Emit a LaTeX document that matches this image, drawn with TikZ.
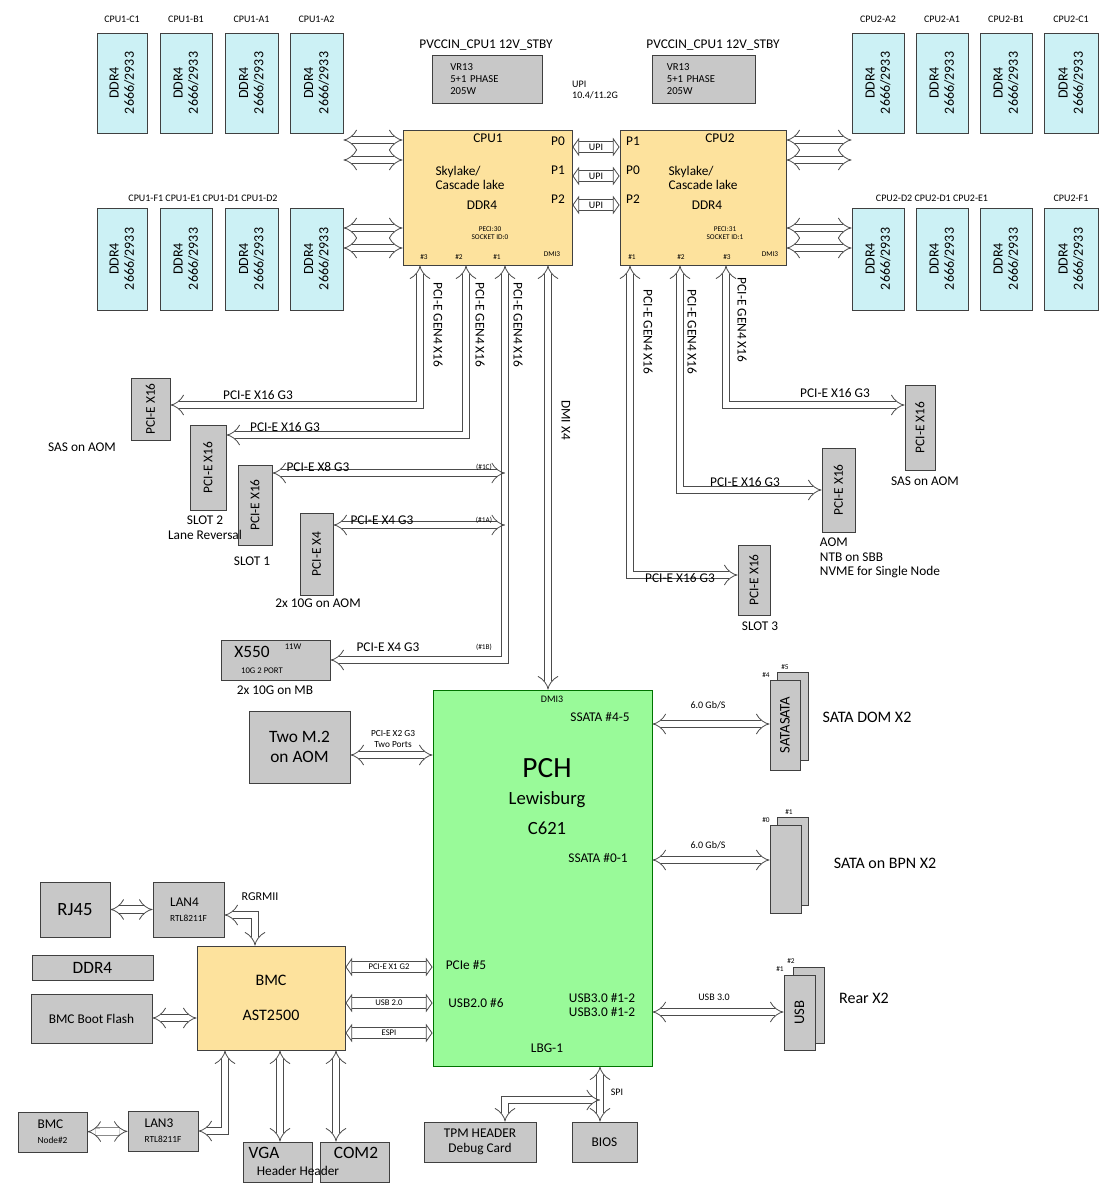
\documentclass[tikz,border=0pt]{standalone}
\usepackage{fontspec}
\setmainfont{Carlito}
\usetikzlibrary{arrows.meta}
\definecolor{dimmc}{RGB}{204,241,245}
\definecolor{cpuc}{RGB}{253,226,157}
\definecolor{pchc}{RGB}{153,250,153}
\definecolor{gryc}{RGB}{200,200,200}
\newcommand{\mybx}[7][]{\node[#1, minimum width={(#5-#3)*0.75pt}, minimum height={(#6-#4)*0.75pt}] (#2) at ({(#3+#5)/2},{(#4+#6)/2}) {#7};}
\newcommand{\myrbx}[7][]{\node[#1, rotate=90, minimum height={(#5-#3)*0.75pt}, minimum width={(#6-#4)*0.75pt}] (#2) at ({(#3+#5)/2},{(#4+#6)/2}) {#7};}
\begin{document}
\begin{tikzpicture}[x=0.75pt,y=-0.75pt,
  base/.style={draw=black!75, line width=0.7pt, inner sep=1pt, align=center},
  dimm/.style={base, fill=dimmc, font=\fontsize{10.5}{11.5}\selectfont},
  gbox/.style={base, fill=gryc, font=\fontsize{10}{11}\selectfont},
  cpu/.style={base, fill=cpuc},
  bus/.style={draw=black!70, double=white, double distance=5pt, line width=0.6pt, {Implies}-{Implies}},
  wbus/.style={draw=black!70, double=white, double distance=8pt, line width=0.6pt, {Triangle[open, width=14pt, length=5pt]}-{Triangle[open, width=14pt, length=5pt]}},
  lbl/.style={font=\fontsize{10}{11}\selectfont, inner sep=1pt},
  sm/.style={font=\fontsize{7.5}{8}\selectfont, inner sep=1pt},
  tiny/.style={font=\fontsize{5.5}{6}\selectfont, inner sep=0.5pt, align=center}]
\useasboundingbox[fill=white] (0,0) rectangle (1104,1187);
% DIMMs
\foreach \n/\xa/\xb/\t in {c1/97/147/CPU1-C1, b1/160/212/CPU1-B1, a1/225/278/CPU1-A1, a2/290/343/CPU1-A2}{
  \myrbx[dimm]{l\n}{\xa}{33}{\xb}{133}{DDR4\\2666/2933}
  \node[sm] (lt\n) at ({(\xa+\xb)/2},19) {\t};}
\foreach \n/\xa/\xb in {f1/97/147, e1/160/212, d1/225/278, d2/290/343}{
  \myrbx[dimm]{l\n}{\xa}{208}{\xb}{310}{DDR4\\2666/2933}}
\node[sm] (ltb) at (203,198) {CPU1-F1 CPU1-E1 CPU1-D1 CPU1-D2};
\foreach \n/\xa/\xb/\t in {a2/852/904/CPU2-A2, a1/916/968/CPU2-A1, b1/980/1032/CPU2-B1, c1/1044/1098/CPU2-C1}{
  \myrbx[dimm]{r\n}{\xa}{33}{\xb}{133}{DDR4\\2666/2933}
  \node[sm] (rt\n) at ({(\xa+\xb)/2},19) {\t};}
\foreach \n/\xa/\xb in {d2/852/904, d1/916/968, e1/980/1032, f1/1044/1098}{
  \myrbx[dimm]{r\n}{\xa}{208}{\xb}{310}{DDR4\\2666/2933}}
\node[sm] (rtb1) at (932,198) {CPU2-D2 CPU2-D1 CPU2-E1};
\node[sm] (rtb2) at (1071,198) {CPU2-F1};
% VR
\node[lbl] (pv1) at (486,45) {PVCCIN\_CPU1 12V\_STBY};
\node[lbl] (pv2) at (713,45) {PVCCIN\_CPU1 12V\_STBY};
\mybx[gbox, font=\fontsize{8}{9}\selectfont, align=left, text width=55pt]{vr1}{432}{55}{542}{103}{VR13\\5+1 PHASE\\205W}
\mybx[gbox, font=\fontsize{8}{9}\selectfont, align=left, text width=55pt]{vr2}{652}{55}{755}{103}{VR13\\5+1 PHASE\\205W}
\node[sm, align=left] (upi) at (595,90) {UPI\\10.4/11.2G};
% CPUs
\mybx[cpu]{cpu1}{403}{130}{572}{265}{}
\mybx[cpu]{cpu2}{620}{130}{786}{265}{}
\node[lbl] at (488,138) {CPU1};
\node[lbl, align=left] at (470,178) {Skylake/\\Cascade lake};
\node[lbl] at (482,205) {DDR4};
\node[tiny] at (490,233) {PECI:30\\SOCKET ID:0};
\node[lbl] at (558,141) {P0}; \node[lbl] at (558,170) {P1}; \node[lbl] at (558,199) {P2};
\node[tiny] at (424,257) {\#3}; \node[tiny] at (459,257) {\#2}; \node[tiny] at (497,257) {\#1}; \node[tiny] at (552,254) {DMI3};
\node[lbl] at (720,138) {CPU2};
\node[lbl, align=left] at (703,178) {Skylake/\\Cascade lake};
\node[lbl] at (707,205) {DDR4};
\node[tiny] at (725,233) {PECI:31\\SOCKET ID:1};
\node[lbl] at (633,141) {P1}; \node[lbl] at (633,170) {P0}; \node[lbl] at (633,199) {P2};
\node[tiny] at (632,257) {\#1}; \node[tiny] at (681,257) {\#2}; \node[tiny] at (727,257) {\#3}; \node[tiny] at (770,254) {DMI3};
% memory buses
\foreach \y in {140,160,228,248}{
  \draw[bus] (la2.south |- 0,\y) -- (cpu1.west |- 0,\y);
  \draw[bus] (cpu2.east |- 0,\y) -- (ra2.north |- 0,\y);}
% UPI
\foreach \y in {147,176,205}{
  \draw[wbus] (cpu1.east |- 0,\y) -- node[sm]{UPI} (cpu2.west |- 0,\y);}
% PCI-E boxes left
\myrbx[gbox]{s0}{131}{378}{170}{440}{PCI-E X16}
\myrbx[gbox]{s2}{190}{425}{226}{510}{PCI-E X16}
\myrbx[gbox]{s1}{238}{465}{272}{545}{PCI-E X16}
\myrbx[gbox]{s4}{300}{513}{333}{595}{PCI-E X4}
\mybx[gbox]{x550}{221}{640}{330}{680}{}
\node[font=\fontsize{13}{14}\selectfont] at (252,652) {X550};
\node[tiny, font=\fontsize{6.5}{7}\selectfont] at (293,647) {11W};
\node[tiny, font=\fontsize{6.5}{7}\selectfont] at (262,671) {10G 2 PORT};
\node[lbl] at (82,447) {SAS on AOM};
\node[lbl, align=center] at (205,528) {SLOT 2\\Lane Reversal};
\node[lbl] at (252,561) {SLOT 1};
\node[lbl] at (318,603) {2x 10G on AOM};
\node[lbl] at (275,690) {2x 10G on MB};
\draw[bus] (cpu1.south -| 420,0) |- (s0.south |- 0,405);
\draw[bus] (cpu1.south -| 466,0) |- (s2.south |- 0,435);
\draw[bus] (cpu1.south -| 505,0) |- (x550.east |- 0,660);
\draw[bus] (505,473) -- (s1.south |- 0,473);
\draw[bus] (505,525) -- (s4.south |- 0,525);
\node[lbl] at (258,395) {PCI-E X16 G3};
\node[lbl] at (285,427) {PCI-E X16 G3};
\node[lbl] at (318,467) {PCI-E X8 G3};
\node[lbl] at (382,520) {PCI-E X4 G3};
\node[lbl] at (388,647) {PCI-E X4 G3};
\node[tiny] at (484,467) {(\#1C)}; \node[tiny] at (484,520) {(\#1A)}; \node[tiny] at (484,647) {(\#1B)};
\node[lbl, rotate=-90] at (438,325) {PCI-E GEN4 X16};
\node[lbl, rotate=-90] at (480,325) {PCI-E GEN4 X16};
\node[lbl, rotate=-90] at (518,325) {PCI-E GEN4 X16};
% PCH
\mybx[base, fill=pchc, draw=green!45!black]{pch}{433}{690}{652}{1066}{}
\draw[bus] (cpu1.south -| 548,0) -- (pch.north -| 548,0);
\node[lbl, rotate=-90] at (566,420) {DMI X4};
\node[sm] at (552,699) {DMI3};
\node[lbl] at (600,717) {SSATA \#4-5};
\node[font=\fontsize{22}{24}\selectfont] at (547,768) {PCH};
\node[font=\fontsize{14}{16}\selectfont] at (547,800) {Lewisburg};
\node[font=\fontsize{14}{16}\selectfont] at (547,828) {C621};
\node[lbl] at (598,858) {SSATA \#0-1};
\node[lbl] at (466,965) {PCIe \#5};
\node[lbl] at (476,1003) {USB2.0 \#6};
\node[lbl, align=left] at (602,1005) {USB3.0 \#1-2\\USB3.0 \#1-2};
\node[lbl] at (547,1048) {LBG-1};
% right CPU2 PCI-E
\myrbx[gbox]{s3}{738}{545}{770}{615}{PCI-E X16}
\myrbx[gbox]{sa}{822}{448}{855}{532}{PCI-E X16}
\myrbx[gbox]{ss}{905}{385}{935}{470}{PCI-E X16}
\draw[bus] (cpu2.south -| 630,0) |- (s3.north |- 0,575);
\draw[bus] (cpu2.south -| 680,0) |- (sa.north |- 0,490);
\draw[bus] (cpu2.south -| 726,0) |- (ss.north |- 0,405);
\node[lbl] at (680,578) {PCI-E X16 G3};
\node[lbl] at (745,482) {PCI-E X16 G3};
\node[lbl] at (835,393) {PCI-E X16 G3};
\node[lbl, rotate=-90] at (648,332) {PCI-E GEN4 X16};
\node[lbl, rotate=-90] at (692,332) {PCI-E GEN4 X16};
\node[lbl, rotate=-90] at (742,320) {PCI-E GEN4 X16};
\node[lbl] at (760,626) {SLOT 3};
\node[lbl, align=left] at (880,558) {AOM\\NTB on SBB\\NVME for Single Node};
\node[lbl] at (925,481) {SAS on AOM};
% M.2
\mybx[gbox, font=\fontsize{13}{15}\selectfont]{m2}{249}{711}{350}{783}{Two M.2\\on AOM}
\draw[bus] (m2.east |- 0,755) -- (pch.west |- 0,755);
\node[tiny, font=\fontsize{7}{8}\selectfont] at (393,739) {PCI-E X2 G3\\Two Ports};
% SATA DOM
\mybx[gbox]{dom2}{777}{672}{808}{760}{}
\myrbx[gbox, font=\fontsize{11}{12}\selectfont]{dom}{770}{680}{800}{770}{SATASATA}
\node[tiny] at (785,667) {\#5}; \node[tiny] at (766,675) {\#4};
\draw[bus] (pch.east |- 0,724) -- (dom.north |- 0,724);
\node[sm] at (708,705) {6.0 Gb/S};
\node[font=\fontsize{12}{13}\selectfont] at (867,717) {SATA DOM X2};
% SATA BPN
\mybx[gbox]{bpn2}{777}{817}{808}{905}{}
\mybx[gbox]{bpn}{770}{825}{801}{913}{}
\node[tiny] at (789,812) {\#1}; \node[tiny] at (766,820) {\#0};
\draw[bus] (pch.east |- 0,860) -- (bpn.west |- 0,860);
\node[sm] at (708,845) {6.0 Gb/S};
\node[font=\fontsize{12}{13}\selectfont] at (885,863) {SATA on BPN X2};
% USB
\mybx[gbox]{usb2}{793}{967}{824}{1043}{}
\myrbx[gbox, font=\fontsize{11}{12}\selectfont]{usb}{784}{975}{815}{1050}{USB}
\node[tiny] at (791,961) {\#2}; \node[tiny] at (780,969) {\#1};
\draw[bus] (pch.east |- 0,1012) -- (usb.north |- 0,1012);
\node[sm] at (714,997) {USB 3.0};
\node[font=\fontsize{12}{13}\selectfont] at (864,998) {Rear X2};
% bottom TPM BIOS
\mybx[gbox]{tpm}{424}{1122}{536}{1162}{TPM HEADER\\Debug Card}
\mybx[gbox]{bios}{572}{1122}{637}{1162}{BIOS}
\draw[bus] (pch.south -| 600,0) -- (bios.north -| 600,0);
\draw[bus] (600,1100) -| (tpm.north -| 505,0);
\node[sm] at (617,1092) {SPI};
% BMC
\mybx[cpu, font=\fontsize{12}{14}\selectfont]{bmc}{197}{946}{345}{1050}{BMC\\[12pt]AST2500}
\draw[wbus] (bmc.east |- 0,967) -- node[tiny, font=\fontsize{6.5}{7}\selectfont]{PCI-E X1 G2} (pch.west |- 0,967);
\draw[wbus] (bmc.east |- 0,1003) -- node[tiny, font=\fontsize{6.5}{7}\selectfont]{USB 2.0} (pch.west |- 0,1003);
\draw[wbus] (bmc.east |- 0,1033) -- node[tiny, font=\fontsize{6.5}{7}\selectfont]{ESPI} (pch.west |- 0,1033);
\mybx[gbox, font=\fontsize{14}{15}\selectfont]{rj}{40}{882}{110}{937}{RJ45}
\mybx[gbox, align=left]{lan4}{153}{882}{224}{937}{LAN4\\{\fontsize{7}{8}\selectfont RTL8211F}}
\draw[bus] (rj) -- (lan4);
\draw[bus] (lan4.east |- 0,915) -| (bmc.north -| 255,0);
\node[sm, font=\fontsize{9}{10}\selectfont] at (260,897) {RGRMII};
\mybx[gbox, font=\fontsize{13}{14}\selectfont]{ddr}{32}{955}{153}{980}{DDR4}
\mybx[gbox]{flash}{31}{994}{152}{1043}{BMC Boot Flash}
\draw[bus] (flash.east |- 0,1018) -- (bmc.west |- 0,1018);
\mybx[gbox, align=left]{node2}{18}{1112}{87}{1152}{BMC\\{\fontsize{7}{8}\selectfont Node\#2}}
\mybx[gbox, align=left]{lan3}{128}{1111}{198}{1151}{LAN3\\{\fontsize{7}{8}\selectfont RTL8211F}}
\draw[bus] (node2) -- (lan3);
\draw[bus] (lan3.east |- 0,1131) -| (bmc.south -| 225,0);
\mybx[gbox]{vga}{243}{1142}{312}{1182}{}
\mybx[gbox]{com}{320}{1142}{389}{1182}{}
\node[font=\fontsize{13}{14}\selectfont] at (264,1153) {VGA};
\node[font=\fontsize{13}{14}\selectfont] at (356,1153) {COM2};
\node[lbl] at (298,1171) {Header Header};
\draw[bus] (bmc.south -| 280,0) -- (vga.north -| 280,0);
\draw[bus] (bmc.south -| 336,0) -- (com.north -| 336,0);
\end{tikzpicture}
\end{document}
